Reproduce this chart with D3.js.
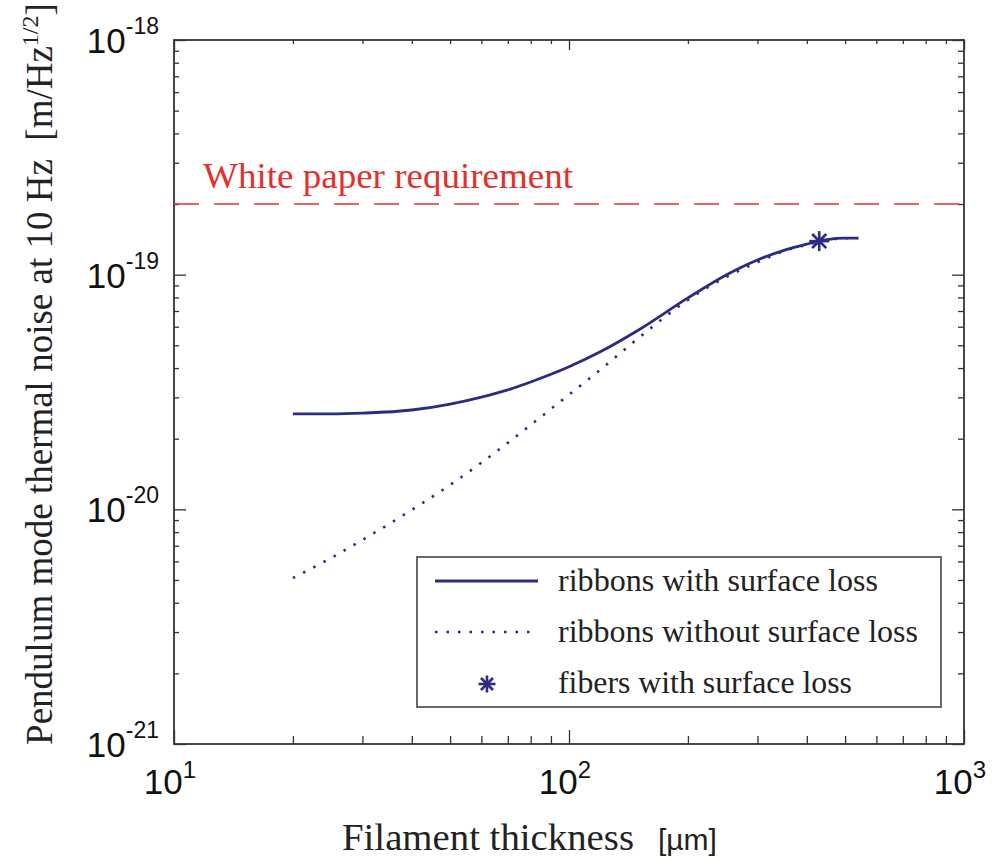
<!DOCTYPE html>
<html>
<head>
<meta charset="utf-8">
<script src="https://cdn.jsdelivr.net/npm/d3@7"></script>
<style>
  body { margin: 0; background: #fff; }
  text { white-space: pre; }
</style>
</head>
<body>
<div id="chart"></div>
<script>
// filament thickness [um]
var thickness = [20, 25, 30, 40, 50, 60, 70, 80, 100, 120, 150, 200, 250, 300, 350, 400, 450, 500, 540];
// ribbons with surface loss
var withSurface = [2.55e-20, 2.55e-20, 2.57e-20, 2.65e-20, 2.81e-20, 3.01e-20, 3.23e-20, 3.49e-20, 4.05e-20, 4.69e-20,
                   5.81e-20, 7.96e-20, 9.97e-20, 1.155e-19, 1.27e-19, 1.35e-19, 1.41e-19, 1.43e-19, 1.43e-19];
// ribbons without surface loss
var withoutSurface = [5.10e-21, 6.21e-21, 7.41e-21, 9.95e-21, 1.27e-20, 1.58e-20, 1.92e-20, 2.29e-20, 3.08e-20, 3.93e-20,
                      5.37e-20, 7.80e-20, 9.77e-20, 1.13e-19, 1.26e-19, 1.34e-19, 1.40e-19, 1.43e-19, 1.43e-19];
// fibers with surface loss
var fiberThickness = [430];
var fiberNoise = [1.39e-19];
var requirement = 2e-19;

var xTicks = [10, 100, 1000], xExp = ["1", "2", "3"];
var yTicks = [1e-18, 1e-19, 1e-20, 1e-21], yExp = ["-18", "-19", "-20", "-21"];

var width = 994, height = 860;
var pLeft = 174, pRight = 964, pTop = 40, pBottom = 744;
var navy = "#2b2b84", red = "#e2302c";

var svg = d3.select("#chart").append("svg")
    .attr("width", width)
    .attr("height", height);

var x = d3.scaleLog().domain([10, 1000]).range([pLeft, pRight]);
var y = d3.scaleLog().domain([1e-21, 1e-18]).range([pBottom, pTop]);

// minor ticks for each decade
function minors(lo, hi) {
  var out = [];
  for (var e = lo; e < hi; e++)
    for (var k = 2; k <= 9; k++) out.push(k * Math.pow(10, e));
  return out;
}
var xMinor = minors(1, 3), yMinor = minors(-21, -18);

function tickAxis(axis, tr, vals, size) {
  var g = svg.append("g").attr("transform", tr)
    .call(axis.tickValues(vals).tickSize(size).tickFormat(""));
  g.select(".domain").remove();
  g.selectAll("line").attr("stroke", "#333").attr("stroke-width", 1.3);
}
// ticks point inward on all sides
tickAxis(d3.axisTop(x), "translate(0," + pBottom + ")", xMinor, 8);
tickAxis(d3.axisTop(x), "translate(0," + pBottom + ")", xTicks, 14);
tickAxis(d3.axisBottom(x), "translate(0," + pTop + ")", xMinor, 4);
tickAxis(d3.axisBottom(x), "translate(0," + pTop + ")", xTicks, 10);
tickAxis(d3.axisRight(y), "translate(" + pLeft + ",0)", yMinor, 5);
tickAxis(d3.axisRight(y), "translate(" + pLeft + ",0)", yTicks, 12);
tickAxis(d3.axisLeft(y), "translate(" + pRight + ",0)", yMinor, 6);
tickAxis(d3.axisLeft(y), "translate(" + pRight + ",0)", yTicks, 12);

svg.append("rect")
    .attr("x", pLeft).attr("y", pTop)
    .attr("width", pRight - pLeft).attr("height", pBottom - pTop)
    .attr("fill", "none").attr("stroke", "#333").attr("stroke-width", 1.8);

// tick labels 10^n
var sans = "'Liberation Sans', Arial, sans-serif";
var xl = svg.append("g").selectAll("text").data(xTicks).enter().append("text")
    .attr("x", function(d) { return x(d) - 4; })
    .attr("y", 794)
    .attr("text-anchor", "middle")
    .attr("font-family", sans).attr("font-size", 35).attr("fill", "#111");
xl.append("tspan").text("10");
xl.append("tspan").attr("dy", -16).attr("font-size", 24).text(function(d, i) { return xExp[i]; });

var yl = svg.append("g").selectAll("text").data(yTicks).enter().append("text")
    .attr("x", 159)
    .attr("y", function(d) { return y(d) + 13; })
    .attr("text-anchor", "end")
    .attr("font-family", sans).attr("font-size", 35).attr("fill", "#111");
yl.append("tspan").text("10");
yl.append("tspan").attr("dy", -19).attr("font-size", 23).text(function(d, i) { return yExp[i]; });

// requirement line
svg.append("line")
    .attr("x1", pLeft).attr("x2", pRight)
    .attr("y1", y(requirement)).attr("y2", y(requirement))
    .attr("stroke", red).attr("stroke-width", 2)
    .attr("stroke-dasharray", "25 15").attr("opacity", 0.75);

var serif = "'Liberation Serif', 'Times New Roman', serif";
svg.append("text")
    .attr("x", 203).attr("y", 188)
    .attr("font-family", serif).attr("font-size", 36)
    .attr("textLength", 370).attr("lengthAdjust", "spacingAndGlyphs")
    .attr("fill", red)
    .text("White paper requirement");

// curves
var line = d3.line()
    .x(function(d) { return x(d[0]); })
    .y(function(d) { return y(d[1]); })
    .curve(d3.curveMonotoneX);

svg.append("path")
    .datum(d3.zip(thickness, withoutSurface))
    .attr("d", line)
    .attr("fill", "none")
    .attr("stroke", navy).attr("stroke-width", 2.6)
    .attr("stroke-dasharray", "2.5 9");

svg.append("path")
    .datum(d3.zip(thickness, withSurface))
    .attr("d", line)
    .attr("fill", "none")
    .attr("stroke", navy).attr("stroke-width", 2.8);

function star(g, cx, cy, r) {
  for (var a = 0; a < 4; a++) {
    var t = a * Math.PI / 4;
    g.append("line")
        .attr("x1", cx - r * Math.cos(t)).attr("y1", cy - r * Math.sin(t))
        .attr("x2", cx + r * Math.cos(t)).attr("y2", cy + r * Math.sin(t))
        .attr("stroke", navy).attr("stroke-width", 2.6);
  }
}
var fibers = svg.append("g");
d3.zip(fiberThickness, fiberNoise).forEach(function(d) {
  star(fibers, x(d[0]), y(d[1]), 10);
});

// legend
var lg = svg.append("g");
lg.append("rect")
    .attr("x", 417).attr("y", 557).attr("width", 524).attr("height", 150)
    .attr("fill", "#fff").attr("stroke", "#444").attr("stroke-width", 1.6);
var rows = [
  {label: "ribbons with surface loss", type: "solid", w: 320},
  {label: "ribbons without surface loss", type: "dot", w: 360},
  {label: "fibers with surface loss", type: "star", w: 294}
];
rows.forEach(function(r, i) {
  var cy = 581 + i * 51;
  if (r.type == "solid") {
    lg.append("line").attr("x1", 435).attr("x2", 538).attr("y1", cy).attr("y2", cy)
        .attr("stroke", navy).attr("stroke-width", 2.8);
  } else if (r.type == "dot") {
    lg.append("line").attr("x1", 435).attr("x2", 538).attr("y1", cy).attr("y2", cy)
        .attr("stroke", navy).attr("stroke-width", 2.4).attr("stroke-dasharray", "2.5 9");
  } else {
    star(lg, 487, cy + 1, 8.5);
  }
  lg.append("text")
      .attr("x", 558).attr("y", cy + 10)
      .attr("font-family", serif).attr("font-size", 31).attr("fill", "#222")
      .attr("textLength", r.w).attr("lengthAdjust", "spacingAndGlyphs")
      .text(r.label);
});

// axis titles
var yt = svg.append("text")
    .attr("transform", "translate(52," + 374 + ") rotate(-90)")
    .attr("text-anchor", "middle")
    .attr("font-family", serif).attr("font-size", 37).attr("fill", "#222");
yt.append("tspan").text("Pendulum mode thermal noise at 10 Hz  [m/Hz");
yt.append("tspan").attr("dy", -14).attr("font-size", 24).text("1/2");
yt.append("tspan").attr("dy", 14).text("]");

var xt = svg.append("text")
    .attr("x", 342).attr("y", 850)
    .attr("font-family", serif).attr("font-size", 37).attr("fill", "#222");
xt.append("tspan").attr("textLength", 292).attr("lengthAdjust", "spacingAndGlyphs").text("Filament thickness");
xt.append("tspan").attr("x", 658).attr("font-family", sans).attr("font-size", 30).text("[µm]");
</script>
</body>
</html>
